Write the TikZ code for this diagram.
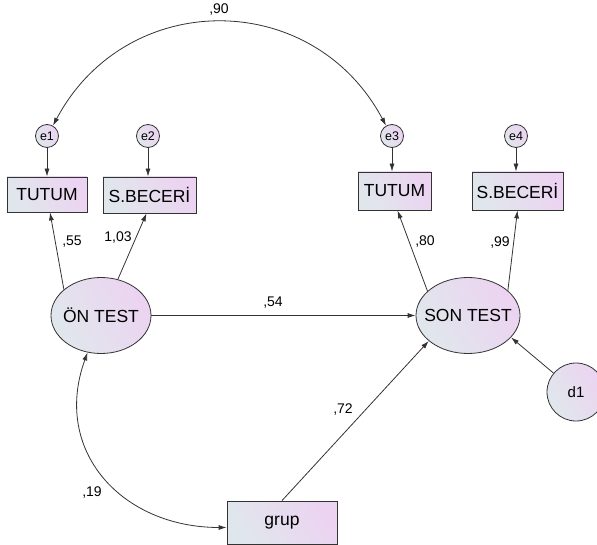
\documentclass[tikz,border=0pt]{standalone}
\usepackage{fontspec}
\setmainfont{Liberation Sans}
\usepackage{xcolor}
\usepackage{tikz}
\usetikzlibrary{positioning,arrows.meta,shapes}

\definecolor{fillL}{HTML}{E0E7EC}
\definecolor{fillR}{HTML}{ECD3F1}
\definecolor{edge}{HTML}{333333}

\tikzset{
  obs/.style={draw=edge, line width=0.8pt, left color=fillL, right color=fillR, shading angle=120, inner sep=0pt, font=\fontsize{17.5}{20}\selectfont},
  lat/.style={obs, ellipse},
  err/.style={obs, circle, minimum size=23pt, font=\fontsize{12.5}{14}\selectfont},
  wt/.style={inner sep=0pt, font=\fontsize{14}{16}\selectfont},
  path/.style={draw=edge, line width=0.8pt, ->},
  cov/.style={draw=edge, line width=0.8pt, <->}
}

\begin{document}
\begin{tikzpicture}[x=1pt, y=1pt, >={Latex[length=8pt,width=5pt]}]
		\useasboundingbox (0,0) rectangle (597,-545);
		
		% indicators
		\node[obs, minimum width=80pt, minimum height=35pt] (tutumA) at (47,-194.5) {TUTUM};
		\node[obs, minimum width=93pt, minimum height=36pt] (becA) at (149.5,-195) {S.BECERİ};
		\node[obs, minimum width=73pt, minimum height=38pt] (tutumB) at (394.5,-191) {TUTUM};
		\node[obs, minimum width=91pt, minimum height=38pt] (becB) at (517.5,-191) {S.BECERİ};
		
		% errors
		\node[err] (e1) at (47,-136) {\makebox[0pt]{e1}};
		\node[err] (e2) at (148,-136) {\makebox[0pt]{e2}};
		\node[err] (e3) at (392,-136) {\makebox[0pt]{e3}};
		\node[err] (e4) at (516,-136) {\makebox[0pt]{e4}};
		
		% latent
		\node[lat, minimum width=100pt, minimum height=76pt] (onTest) at (101,-315.5) {\makebox[0pt]{ÖN TEST}};
		\node[lat, minimum width=104pt, minimum height=76pt] (sonTest) at (468,-315.5) {\makebox[0pt]{SON TEST}};
		
		\node[obs, minimum width=110pt, minimum height=43pt] (grup) at (282,-522.5) {grup};
		\node[obs, circle, minimum size=58pt, font=\fontsize{15}{17}\selectfont] (d1) at (576,-392) {d1};
		
		% paths
		\draw[path] (e1) -- (tutumA);
		\draw[path] (e2) -- (e2 |- becA.north);
		\draw[path] (e3) -- (e3 |- tutumB.north);
		\draw[path] (e4) -- (e4 |- becB.north);
		
		\draw[path] (onTest.145) -- ([xshift=3pt]tutumA.south);
		\draw[path] (onTest.65) -- ([xshift=-3pt]becA.south);
		\draw[path] (sonTest.149) -- ([xshift=3pt]tutumB.south);
		\draw[path] (sonTest.32) -- (becB.south);
		
		\draw[path] (onTest) -- (sonTest);
		\draw[path] (grup.north) -- (sonTest.213);
		\draw[path] (d1) -- (sonTest.333);
		
		% covariances
		\draw[cov] (e1.60) to[out=62, in=118, looseness=1.2] (e3.120);
		\draw[cov] (onTest.250) to[out=250, in=180, looseness=1.2] ([yshift=-5pt]grup.west);
		
		% weights
		\node[wt] (w90) at (219,-10) {,90};
		\node[wt] (w55) at (72,-242) {,55};
		\node[wt] (w103) at (118,-238) {1,03};
		\node[wt] (w80) at (425,-242) {,80};
		\node[wt] (w99) at (500,-243) {,99};
		\node[wt] (w54) at (273,-303) {,54};
		\node[wt] (w72) at (343,-410) {,72};
		\node[wt] (w19) at (92,-493) {,19};
	\end{tikzpicture}
\end{document}
